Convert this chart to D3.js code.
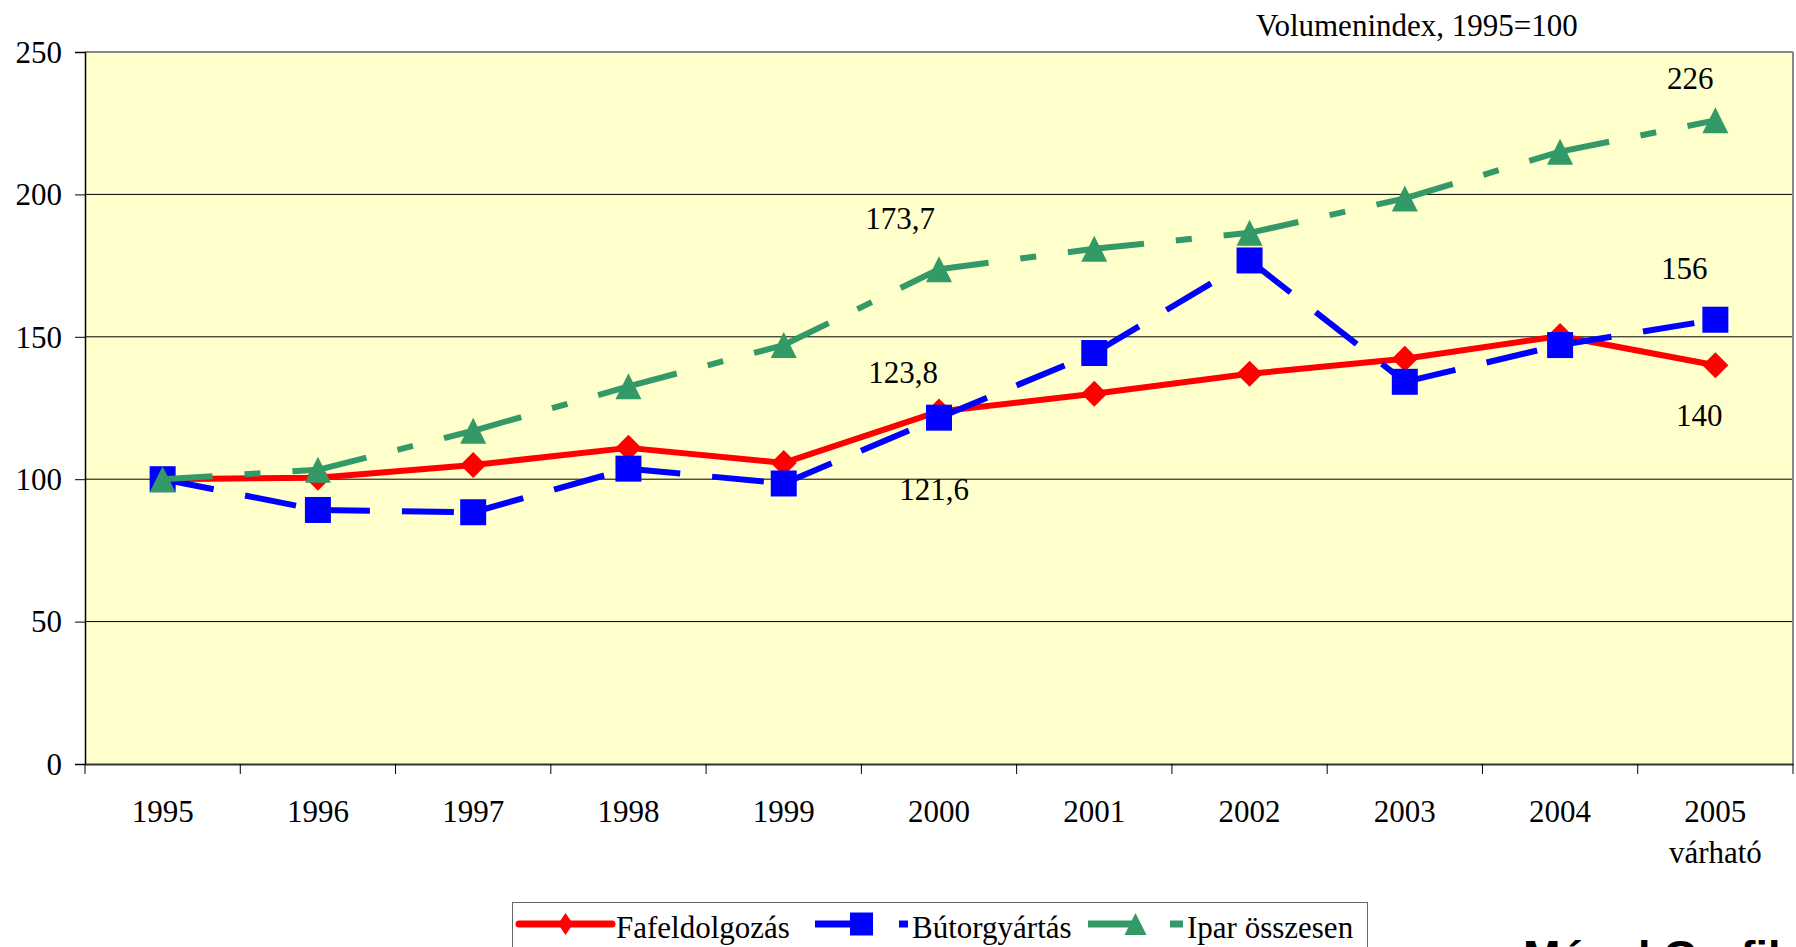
<!DOCTYPE html>
<html><head><meta charset="utf-8">
<script src="https://cdn.jsdelivr.net/npm/d3@7/dist/d3.min.js"></script>
<style>body{margin:0;background:#fff}svg{display:block}text{font-family:"Liberation Serif","Times New Roman",serif}</style>
</head><body><svg id="c" width="1796" height="947"></svg>
<script>
const years = ["1995","1996","1997","1998","1999","2000","2001","2002","2003","2004","2005"];
const yearSub = ["","","","","","","","","","","várható"];
const fafeldolgozas = [100,100.5,105,111,105.7,123.8,130,137,142.3,150.3,140];
const butorgyartas = [100,89.2,88.4,103.7,98.5,121.6,144.3,176.8,134.2,147.1,156];
const iparOsszesen = [100,103.3,117,132.6,147.1,173.7,180.9,186.5,198.6,215,226];
const yTicks = [0,50,100,150,200,250];
const seriesNames = ["Fafeldolgozás","Bútorgyártás","Ipar összesen"];
const unitLabel = "Volumenindex, 1995=100";
const labelIdx = [[5,10],[5,10],[5,10]];

const svg = d3.select("#c");
const L=85,R=1793,T=52,B=764;
const x = d3.scaleBand().domain(years).range([L,R]).padding(0);
const y = d3.scaleLinear().domain([0,250]).range([B,T]);
const cx = d => x(d)+x.bandwidth()/2;

svg.append("rect").attr("x",L).attr("y",T).attr("width",R-L).attr("height",B-T).attr("fill","#FFFFCC");
// grid
svg.append("g").selectAll("line").data(yTicks.filter(v=>v>0&&v<250)).join("line")
  .attr("x1",L).attr("x2",R).attr("y1",d=>y(d)).attr("y2",d=>y(d)).attr("stroke","#000").attr("stroke-width",1);
// border
svg.append("line").attr("x1",L).attr("x2",R).attr("y1",T).attr("y2",T).attr("stroke","#888").attr("stroke-width",2);
svg.append("line").attr("x1",R).attr("x2",R).attr("y1",T).attr("y2",B).attr("stroke","#888").attr("stroke-width",2);

// y axis
const ya = svg.append("g").attr("transform",`translate(${L},0)`).call(d3.axisLeft(y).tickValues(yTicks).tickSize(10).tickPadding(13));
ya.select(".domain").attr("stroke","#000").attr("stroke-width",1.5);
ya.selectAll(".tick line").attr("stroke","#000");
ya.selectAll("text").attr("font-size",31).attr("font-family","Liberation Serif").attr("fill","#000").attr("dy","0.33em");
// x axis
const xa = svg.append("g").attr("transform",`translate(0,${B})`).call(d3.axisBottom(x).tickSize(0).tickFormat(""));
xa.select(".domain").attr("stroke","#333").attr("stroke-width",2);
const bounds = years.map(d=>x(d)).concat([R]);
svg.append("g").selectAll("line").data(bounds).join("line")
  .attr("x1",d=>d).attr("x2",d=>d).attr("y1",B).attr("y2",B+10).attr("stroke","#000").attr("stroke-width",1);
svg.append("g").selectAll("text").data(years).join("text")
  .attr("x",d=>cx(d)).attr("y",822).attr("text-anchor","middle").attr("font-size",31).text(d=>d);
svg.append("g").selectAll("text").data(years.filter((d,i)=>yearSub[i])).join("text")
  .attr("x",d=>cx(d)).attr("y",863).attr("text-anchor","middle").attr("font-size",31).text(d=>yearSub[years.indexOf(d)]);

svg.append("text").attr("x",1256).attr("y",36).attr("font-size",31).text(unitLabel);

const styles = [
  {color:"#FF0000",dash:null,marker:"diamond"},
  {color:"#0000FF",dash:"52,32",marker:"square"},
  {color:"#339966",dash:"50,32,16,32",marker:"triangle"}
];
const data = [fafeldolgozas,butorgyartas,iparOsszesen];
const line = d3.line().x(d=>cx(d[0])).y(d=>y(d[1]));

function marker(g,type,px,py,s,color){
  const h=s/2;
  let p;
  if(type==="diamond") p=`M${px},${py-h}L${px+h},${py}L${px},${py+h}L${px-h},${py}Z`;
  else if(type==="square") p=`M${px-h},${py-h}h${s}v${s}h${-s}Z`;
  else p=`M${px},${py-h}L${px+h},${py+h}L${px-h},${py+h}Z`;
  g.append("path").attr("d",p).attr("fill",color);
}
function markerL(g,type,px,py,w,hh,color){
  let p;
  if(type==="diamond") p=`M${px},${py-hh/2}L${px+w/2},${py}L${px},${py+hh/2}L${px-w/2},${py}Z`;
  else if(type==="square") p=`M${px-w/2},${py-hh/2}h${w}v${hh}h${-w}Z`;
  else p=`M${px},${py-hh/2}L${px+w/2},${py+hh/2}L${px-w/2},${py+hh/2}Z`;
  g.append("path").attr("d",p).attr("fill",color);
}

data.forEach((vals,si)=>{
  const st=styles[si];
  const g=svg.append("g");
  const pts=years.map((yr,i)=>[yr,vals[i]]);
  if(st.dash){
    for(let i=0;i<pts.length-1;i++){
      g.append("path").attr("d",line([pts[i],pts[i+1]])).attr("fill","none").attr("stroke",st.color)
        .attr("stroke-width",6).attr("stroke-dasharray",st.dash);
    }
  } else {
    g.append("path").attr("d",line(pts)).attr("fill","none").attr("stroke",st.color).attr("stroke-width",6).attr("stroke-linejoin","round");
  }
  pts.forEach(p=>marker(g,st.marker,cx(p[0]),y(p[1]),26,st.color));
});

// data labels
const fmt = v => d3.format("")(v).replace(".",",");
const labelOff = [[[-36,-28],[-16,61]],[[-5,82.5],[-31,-41]],[[-39,-40],[-25,-31]]];
data.forEach((vals,si)=>{
  labelIdx[si].forEach((idx,k)=>{
    const o=labelOff[si][k];
    svg.append("text").attr("x",cx(years[idx])+o[0]).attr("y",y(vals[idx])+o[1])
      .attr("text-anchor","middle").attr("font-size",31).text(fmt(vals[idx]));
  });
});

// legend
const lg=svg.append("g");
lg.append("rect").attr("x",512.5).attr("y",902.5).attr("width",855).attr("height",80).attr("fill","#fff").attr("stroke","#666").attr("stroke-width",1);
const legX=[[519,612,616],[815,908,912],[1088,1183,1187]];
const legMk=[[15,22],[23,23],[22,22]];
const ly=924;
seriesNames.forEach((n,si)=>{
  const st=styles[si];
  const [a,b,t]=legX[si];
  const ln=lg.append("line").attr("x1",a).attr("x2",b).attr("y1",ly).attr("y2",ly).attr("stroke",st.color).attr("stroke-width",7);
  if(st.dash) ln.attr("stroke-dasharray",st.dash); else ln.attr("stroke-linecap","round");
  markerL(lg,st.marker,(a+b)/2,ly,legMk[si][0],legMk[si][1],st.color);
  lg.append("text").attr("x",t).attr("y",938).attr("font-size",31).text(n);
});

svg.append("text").attr("x",1523).attr("y",972).attr("font-size",45).attr("font-weight","bold")
  .attr("font-family","Liberation Sans, Arial, sans-serif").style("font-family","'Liberation Sans',Arial,sans-serif").text("Mégel Grafika");
</script></body></html>
